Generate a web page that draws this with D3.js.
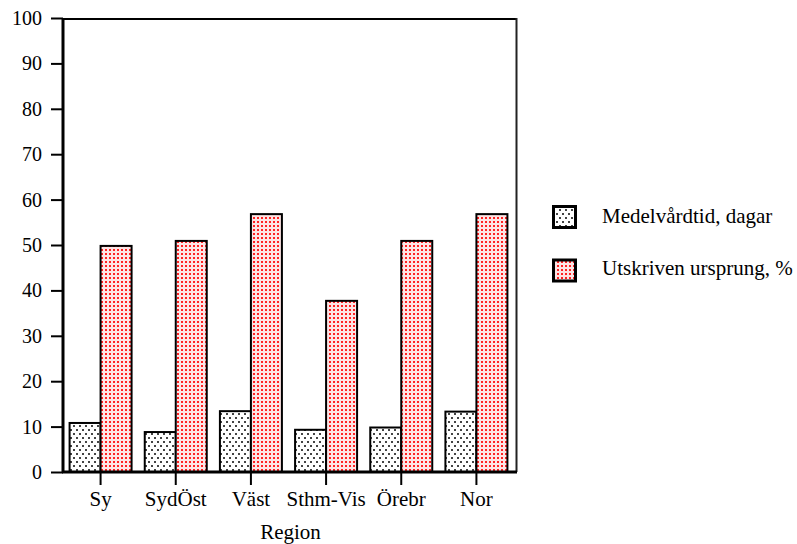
<!DOCTYPE html>
<html>
<head>
<meta charset="utf-8">
<script src="https://cdn.jsdelivr.net/npm/d3@7"></script>
</head>
<body style="margin:0">
<svg id="chart" width="797" height="544" font-family="Liberation Serif" style="display:block"></svg>
<script>
const categories = ["Sy", "SydÖst", "Väst", "Sthm-Vis", "Örebr", "Nor"];
const medelvardtid = [10.8, 8.8, 13.4, 9.3, 9.8, 13.3];
const utskriven = [49.8, 50.9, 56.8, 37.7, 50.9, 56.8];
const seriesNames = ["Medelvårdtid, dagar", "Utskriven ursprung, %"];
const yTicks = [0, 10, 20, 30, 40, 50, 60, 70, 80, 90, 100];

(function () {
const svg = d3.select("#chart");
const pLeft = 63, pRight = 514, pTop = 18, pBottom = 472;
const setFont = (sel, size) => sel
  .attr("font-family", "Liberation Serif")
  .style("font-family", '"Liberation Serif"')
  .attr("font-size", size)
  .style("font-size", size + "px")
  .attr("fill", "#000");

const defs = svg.append("defs");
const pg = defs.append("pattern").attr("id", "patGrey")
  .attr("patternUnits", "userSpaceOnUse").attr("width", 6).attr("height", 8);
pg.append("rect").attr("width", 6).attr("height", 8).attr("fill", "#fff");
pg.append("rect").attr("x", 1).attr("y", 1).attr("width", 2).attr("height", 2).attr("fill", "#444");
pg.append("rect").attr("x", 4).attr("y", 5).attr("width", 2).attr("height", 2).attr("fill", "#444");

const pr = defs.append("pattern").attr("id", "patRed")
  .attr("patternUnits", "userSpaceOnUse").attr("width", 4).attr("height", 4);
pr.append("rect").attr("width", 4).attr("height", 4).attr("fill", "#fde4e4");
pr.append("rect").attr("x", 1).attr("y", 1).attr("width", 2).attr("height", 2).attr("fill", "#f22");

const x = d3.scaleBand().domain(categories).range([pLeft, pRight]);
const y = d3.scaleLinear().domain([0, 100]).range([pBottom, pTop]);
const barW = 31;

// frame: top & right
svg.append("line").attr("x1", pLeft).attr("x2", 517).attr("y1", y(100) + 1).attr("y2", y(100) + 1)
  .attr("stroke", "#000").attr("stroke-width", 2);
svg.append("line").attr("x1", 516.5).attr("x2", 516.5).attr("y1", y(100)).attr("y2", pBottom)
  .attr("stroke", "#222").attr("stroke-width", 2);

// bars
const data = categories.map((c, i) => ({ c, a: medelvardtid[i], b: utskriven[i] }));
const g = svg.append("g");
g.selectAll("rect.a").data(data).join("rect")
  .attr("x", d => x(d.c) + x.bandwidth() / 2 - barW)
  .attr("y", d => y(d.a))
  .attr("width", barW)
  .attr("height", d => pBottom - y(d.a))
  .attr("fill", "url(#patGrey)").attr("stroke", "#000").attr("stroke-width", 2);
g.selectAll("rect.b").data(data).join("rect")
  .attr("x", d => x(d.c) + x.bandwidth() / 2)
  .attr("y", d => y(d.b))
  .attr("width", barW)
  .attr("height", d => pBottom - y(d.b))
  .attr("fill", "url(#patRed)").attr("stroke", "#000").attr("stroke-width", 2);

// y axis
const yAxis = svg.append("g").attr("transform", `translate(${pLeft},0)`)
  .call(d3.axisLeft(y).tickValues(yTicks).tickSize(12).tickPadding(9).tickFormat(d3.format("d")));
setFont(yAxis, 20);
yAxis.select(".domain").attr("stroke-width", 3).attr("d", `M0,${y(100)}V${pBottom + 1}`);
yAxis.selectAll(".tick line").attr("stroke-width", 2);
setFont(yAxis.selectAll("text"), 20);

// x axis
const xAxis = svg.append("g").attr("transform", `translate(0,${pBottom})`)
  .call(d3.axisBottom(x).tickSize(13).tickPadding(6));
setFont(xAxis, 21);
xAxis.select(".domain").attr("stroke-width", 3).attr("d", `M${pLeft - 1},0H517`);
xAxis.selectAll(".tick line").attr("stroke-width", 2);
setFont(xAxis.selectAll("text"), 21);

setFont(svg.append("text").attr("x", (pLeft + pRight) / 2 + 2).attr("y", 539)
  .attr("text-anchor", "middle"), 21).text("Region");

// legend
const fills = ["url(#patGrey)", "url(#patRed)"];
const leg = svg.append("g");
seriesNames.forEach((name, i) => {
  const by = 206.5 + i * 53.5;
  leg.append("rect").attr("x", 553.5).attr("y", by).attr("width", 22).attr("height", 21)
    .attr("fill", fills[i]).attr("stroke", "#000").attr("stroke-width", 3);
  setFont(leg.append("text").attr("x", 602).attr("y", 223 + i * 52), 21).text(name);
});
})();
</script>
</body>
</html>
